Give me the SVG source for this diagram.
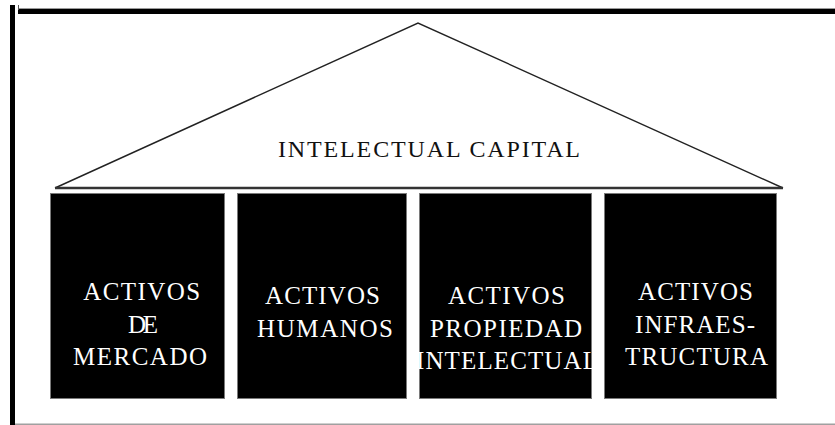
<svg xmlns="http://www.w3.org/2000/svg" width="835" height="425" viewBox="0 0 835 425">
  <style>
    .frame { fill: #000; }
    .pillar rect { fill: #000; stroke: #7a7a7a; stroke-width: 1; }
    .pillar text { fill: #fff; font-family: "Liberation Serif", "Times New Roman", serif; font-size: 25px; text-anchor: middle; }
    .title { fill: #111; font-family: "Liberation Serif", "Times New Roman", serif; font-size: 24px; text-anchor: middle; }
  </style>
  <rect width="835" height="425" fill="#fff"/>

  <!-- outer frame: left and top bars, thin bottom rule -->
  <g id="frame">
    <rect class="frame" x="10" y="5" width="5" height="420"/>
    <rect x="18" y="8" width="817" height="1" fill="#9a9a9a"/>
    <rect class="frame" x="18" y="9" width="817" height="5"/>
    <rect x="18" y="5" width="1" height="5" fill="#555"/>
    <rect x="15" y="423.5" width="820" height="1.5" fill="#a0a0a0"/>
  </g>

  <!-- roof -->
  <g id="roof">
    <polyline points="55,188 418,23 783,188" fill="none" stroke="#222" stroke-width="1.4"/>
    <line x1="55" y1="188" x2="783" y2="188" stroke="#333" stroke-width="2.5"/>
    <text class="title" x="429" y="157" textLength="302" lengthAdjust="spacing">INTELECTUAL CAPITAL</text>
  </g>

  <!-- pillars -->
  <g id="pillar-mercado" class="pillar">
    <rect x="50.5" y="193.5" width="174" height="205"/>
    <text x="141.7" y="300" textLength="117" lengthAdjust="spacing">ACTIVOS</text>
    <text x="143" y="333" textLength="30" lengthAdjust="spacing">DE</text>
    <text x="140" y="365" textLength="134" lengthAdjust="spacing">MERCADO</text>
  </g>

  <g id="pillar-humanos" class="pillar">
    <rect x="237.5" y="193.5" width="169" height="205"/>
    <text x="322.5" y="304" textLength="115" lengthAdjust="spacing">ACTIVOS</text>
    <text x="325" y="337" textLength="136" lengthAdjust="spacing">HUMANOS</text>
  </g>

  <g id="pillar-propiedad" class="pillar">
    <rect x="419.5" y="193.5" width="172" height="205"/>
    <text x="506.5" y="304" textLength="117" lengthAdjust="spacing">ACTIVOS</text>
    <text x="506" y="337" textLength="152" lengthAdjust="spacing">PROPIEDAD</text>
    <text x="507" y="369" textLength="182" lengthAdjust="spacing">INTELECTUAL</text>
  </g>

  <g id="pillar-infraestructura" class="pillar">
    <rect x="604.5" y="193.5" width="172" height="205"/>
    <text x="695.5" y="300" textLength="115" lengthAdjust="spacing">ACTIVOS</text>
    <text x="695" y="333" textLength="120" lengthAdjust="spacing">INFRAES-</text>
    <text x="696.5" y="365" textLength="143" lengthAdjust="spacing">TRUCTURA</text>
  </g>
</svg>
